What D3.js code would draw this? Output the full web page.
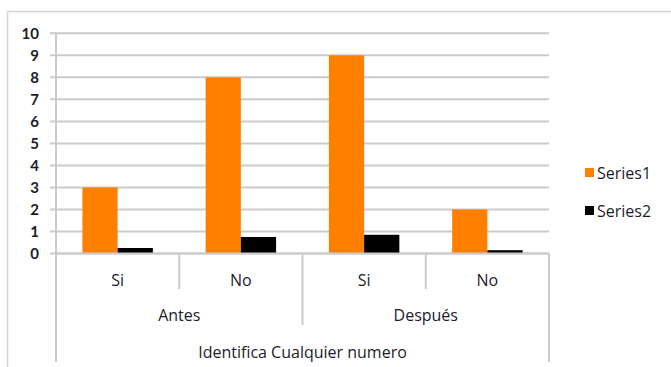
<!DOCTYPE html>
<html><head><meta charset="utf-8">
<script src="https://cdn.jsdelivr.net/npm/d3@7"></script>
<style>
html,body{margin:0;padding:0;background:#fff;}
svg{display:block;font-family:"Open Sans", Lato, sans-serif;}
</style></head>
<body><svg id="c" width="671" height="367"></svg>
<script>
const categories = ["Si","No","Si","No"];
const groups = ["Antes","Después"];
const axisTitle = "Identifica Cualquier numero";
const seriesNames = ["Series1","Series2"];
const series1 = [3, 8, 9, 2];
const series2 = [0.25, 0.75, 0.85, 0.15];
const yTicks = [0,1,2,3,4,5,6,7,8,9,10];
const colors = ["#FF8000", "#000000"];

const svg = d3.select("#c");
const textColor = "#1c1c2a";
const gridColor = "#cbcbcb";
const fs = 16;

// frame
svg.append("path").attr("d","M7.5,367 L7.5,11.5 L671,11.5")
  .attr("fill","none").attr("stroke","#d6d6d6").attr("stroke-width",1.5);

const x0 = 56, x1 = 549, yBase = 253.5, yTop = 33.3;
const x = d3.scaleBand().domain(d3.range(categories.length)).range([x0, x1]).paddingInner(0).paddingOuter(0);
const y = d3.scaleLinear().domain([0,10]).range([yBase, yTop]);
const bw = x.bandwidth() / 3.5;

// gridlines
svg.append("g").selectAll("line").data(yTicks).join("line")
  .attr("x1", x0 - 6).attr("x2", x1)
  .attr("y1", d => y(d)).attr("y2", d => y(d))
  .attr("stroke", gridColor).attr("stroke-width", 2);

// y axis
const yAxis = svg.append("g").attr("transform", `translate(${x0},0)`)
  .call(d3.axisLeft(y).tickValues(yTicks).tickSize(0).tickPadding(17).tickFormat(d3.format("d")));
yAxis.select(".domain").remove();
yAxis.selectAll("text").attr("fill", textColor).attr("font-size", 15)
  .attr("font-family","Lato, sans-serif").attr("font-weight","bold").attr("dy","0.35em");
svg.append("line").attr("x1", x0).attr("x2", x0).attr("y1", yTop).attr("y2", yBase)
  .attr("stroke", gridColor).attr("stroke-width", 2);

// bars
const allSeries = [series1, series2];
allSeries.forEach((vals, si) => {
  svg.append("g").selectAll("rect").data(vals).join("rect")
    .attr("x", (d,i) => x(i) + 0.75*bw + si*bw)
    .attr("width", bw)
    .attr("y", d => y(d))
    .attr("height", d => yBase - y(d))
    .attr("fill", colors[si]);
});

// x axis line
svg.append("line").attr("x1", x0).attr("x2", x1).attr("y1", yBase).attr("y2", yBase)
  .attr("stroke", gridColor).attr("stroke-width", 2);

// multi-level category axis
const dividers = [];
categories.forEach((c,i) => {
  const xl = x(i);
  let y2 = 289;
  if (i % 2 === 0) y2 = 325;
  if (i === 0) y2 = 362;
  dividers.push({x: xl, y2});
});
dividers.push({x: x1, y2: 362});
svg.append("g").selectAll("line").data(dividers).join("line")
  .attr("x1", d => d.x).attr("x2", d => d.x).attr("y1", yBase).attr("y2", d => d.y2)
  .attr("stroke", gridColor).attr("stroke-width", 2);

svg.append("g").selectAll("text").data(categories).join("text")
  .attr("x", (d,i) => x(i) + x.bandwidth()/2).attr("y", 280).attr("dy","0.35em")
  .attr("text-anchor","middle").attr("font-size",fs).attr("fill",textColor).text(d => d);

svg.append("g").selectAll("text").data(groups).join("text")
  .attr("x", (d,i) => x(i*2) + x.bandwidth()).attr("y", 315).attr("dy","0.35em")
  .attr("text-anchor","middle").attr("font-size",fs).attr("fill",textColor).text(d => d);

svg.append("text").attr("x", (x0+x1)/2).attr("y", 352).attr("dy","0.35em")
  .attr("text-anchor","middle").attr("font-size",fs).attr("fill",textColor).text(axisTitle);

// legend
const leg = svg.append("g");
seriesNames.forEach((n, i) => {
  const ly = 173 + i*38;
  leg.append("rect").attr("x", 585).attr("y", ly - 5).attr("width", 9).attr("height", 9).attr("fill", colors[i]);
  leg.append("text").attr("x", 597).attr("y", ly).attr("dy","0.35em").attr("font-size",fs)
    .attr("fill", textColor).text(n);
});
</script></body></html>
